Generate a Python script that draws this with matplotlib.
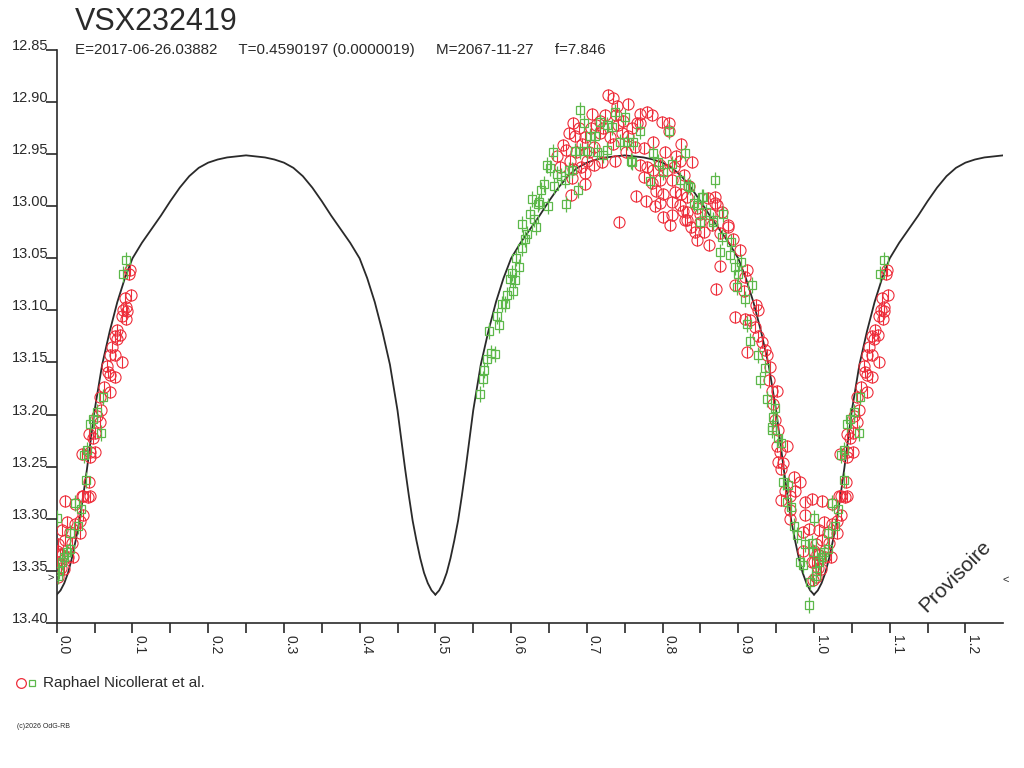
import matplotlib
matplotlib.use("Agg")
import matplotlib.pyplot as plt
from matplotlib.lines import Line2D
import numpy as np

plt.rcParams['font.family'] = ['Liberation Sans', 'DejaVu Sans']

# phased light curve, phases kept in 0..1 (plotted again at phase+1)
red_phase = [
    0.097, 0.095, 0.098, 0.090, 0.092, 0.088, 0.093, 0.086, 0.091, 0.080,
    0.084, 0.079, 0.077, 0.073, 0.077, 0.070, 0.086, 0.066, 0.068, 0.077,
    0.070, 0.062, 0.070, 0.057, 0.059, 0.053, 0.057, 0.051, 0.048, 0.044,
    0.044, 0.051, 0.042, 0.033, 0.044, 0.011, 0.024, 0.031, 0.013, 0.007,
    0.018, 0.031, 0.011, 0.020, 0.002, 0.000, 0.007, 0.022, 0.000, 0.009,
    0.002, 0.035, 0.041, 0.035, 0.024, 0.004, 0.015, 0.005, 0.034, 0.043,
    0.728, 0.734, 0.755, 0.707, 0.724, 0.739, 0.682, 0.684, 0.697, 0.717,
    0.731, 0.746, 0.669, 0.673, 0.693, 0.709, 0.735, 0.764, 0.678, 0.700,
    0.709, 0.720, 0.737, 0.682, 0.698, 0.680, 0.698, 0.679, 0.766, 0.740,
    0.779, 0.786, 0.770, 0.808, 0.799, 0.770, 0.755, 0.788, 0.808, 0.825,
    0.775, 0.803, 0.839, 0.823, 0.770, 0.779, 0.797, 0.775, 0.786, 0.797,
    0.812, 0.817, 0.801, 0.825, 0.797, 0.812, 0.823, 0.832, 0.845, 0.860,
    0.869, 0.863, 0.878, 0.810, 0.832, 0.849, 0.887, 0.712, 0.718, 0.722,
    0.705, 0.690, 0.676, 0.686, 0.703, 0.741, 0.748, 0.760, 0.752, 0.660,
    0.664, 0.692, 0.788, 0.792, 0.806, 0.815, 0.818, 0.828, 0.835, 0.765,
    0.743, 0.778, 0.790, 0.800, 0.812, 0.838, 0.855,
    0.869, 0.872, 0.832, 0.827, 0.849, 0.830, 0.865, 0.887, 0.843, 0.876,
    0.893, 0.845, 0.861, 0.902, 0.876, 0.911, 0.909, 0.896, 0.871, 0.907,
    0.924, 0.926, 0.896, 0.909, 0.916, 0.922, 0.926, 0.931, 0.911, 0.935,
    0.938, 0.942, 0.940, 0.944, 0.951, 0.951, 0.964, 0.955, 0.953, 0.959,
    0.957, 0.973, 0.981, 0.962, 0.975, 0.968, 0.957, 0.988, 0.997, 0.968,
    0.988, 0.968, 0.993, 0.986, 0.986, 0.997, 0.999, 0.949, 0.952, 0.946,
]
red_mag = [
    13.061, 13.065, 13.085, 13.088, 13.097, 13.100, 13.101, 13.105, 13.108, 13.119,
    13.124, 13.127, 13.125, 13.135, 13.143, 13.143, 13.150, 13.153, 13.159, 13.164,
    13.162, 13.174, 13.178, 13.183, 13.196, 13.201, 13.207, 13.218, 13.223, 13.236,
    13.241, 13.236, 13.265, 13.278, 13.278, 13.283, 13.286, 13.302, 13.303, 13.311,
    13.313, 13.314, 13.321, 13.323, 13.324, 13.331, 13.335, 13.337, 13.342, 13.348,
    13.356, 13.278, 13.279, 13.297, 13.305, 13.334, 13.337, 13.347, 13.238, 13.219,
    12.893, 12.896, 12.902, 12.911, 12.912, 12.912, 12.920, 12.932, 12.933, 12.930,
    12.933, 12.930, 12.941, 12.946, 12.940, 12.943, 12.940, 12.943, 12.956, 12.956,
    12.960, 12.957, 12.956, 12.964, 12.968, 12.973, 12.979, 12.989, 12.920, 12.904,
    12.909, 12.912, 12.911, 12.920, 12.919, 12.920, 12.932, 12.938, 12.928, 12.940,
    12.944, 12.948, 12.957, 12.956, 12.960, 12.962, 12.960, 12.972, 12.978, 12.975,
    12.975, 12.986, 12.988, 12.988, 12.997, 12.996, 12.999, 13.005, 13.002, 12.992,
    12.997, 13.007, 13.005, 13.018, 13.013, 13.015, 13.018, 12.922, 12.918, 12.925,
    12.925, 12.925, 12.930, 12.948, 12.948, 12.922, 12.918, 12.925, 12.948, 12.952,
    12.962, 12.962, 12.965, 12.985, 12.965, 12.962, 12.952, 12.970, 12.980, 12.990,
    13.015, 12.995, 13.000, 13.010, 13.008, 13.020, 13.025,
    12.991, 12.999, 12.991, 13.004, 13.007, 13.013, 13.018, 13.020, 13.025, 13.026,
    13.031, 13.032, 13.037, 13.042, 13.057, 13.061, 13.068, 13.076, 13.079, 13.081,
    13.095, 13.100, 13.106, 13.108, 13.109, 13.116, 13.125, 13.130, 13.140, 13.138,
    13.143, 13.154, 13.167, 13.177, 13.177, 13.230, 13.230, 13.236, 13.246, 13.247,
    13.252, 13.260, 13.265, 13.273, 13.273, 13.278, 13.282, 13.284, 13.281, 13.292,
    13.297, 13.300, 13.310, 13.313, 13.331, 13.342, 13.359, 13.205, 13.215, 13.190,
]

green_phase = [
    0.092, 0.087, 0.061, 0.053, 0.048, 0.044, 0.059, 0.040, 0.036, 0.039,
    0.024, 0.032, 0.028, 0.000, 0.018, 0.018, 0.013, 0.010, 0.007, 0.003,
    0.002,
    0.559, 0.563, 0.564, 0.568, 0.574, 0.579, 0.571, 0.584, 0.582, 0.588,
    0.592, 0.594, 0.602, 0.598, 0.605, 0.601, 0.610, 0.607, 0.614, 0.618,
    0.621, 0.615, 0.633, 0.625, 0.630, 0.637, 0.628, 0.649, 0.640, 0.644,
    0.636, 0.673, 0.657, 0.661, 0.647, 0.651, 0.655, 0.666, 0.671, 0.676,
    0.680, 0.689, 0.684, 0.691, 0.700, 0.713, 0.691, 0.696, 0.704, 0.711,
    0.717, 0.726, 0.733, 0.737, 0.750, 0.744, 0.753, 0.761, 0.758, 0.726,
    0.722,
    0.869, 0.830, 0.808, 0.854, 0.845, 0.858, 0.867, 0.880, 0.836, 0.823,
    0.812, 0.794, 0.788, 0.784, 0.770, 0.760, 0.801,
    0.834, 0.841, 0.852, 0.849, 0.867, 0.878, 0.891, 0.876, 0.889, 0.903,
    0.896, 0.900, 0.918, 0.898, 0.909, 0.911, 0.916, 0.926, 0.935, 0.929,
    0.938, 0.949, 0.946, 0.944, 0.944, 0.953, 0.957, 0.959, 0.966, 0.964,
    0.970, 0.973, 0.977, 0.988, 0.997, 0.981, 0.986, 0.995, 0.993, 0.999,
]
green_mag = [
    13.052, 13.065, 13.183, 13.198, 13.204, 13.209, 13.218, 13.234, 13.239, 13.263,
    13.285, 13.291, 13.307, 13.299, 13.314, 13.329, 13.332, 13.337, 13.342, 13.350,
    13.355,
    13.180, 13.166, 13.157, 13.147, 13.141, 13.142, 13.120, 13.114, 13.105, 13.094,
    13.094, 13.085, 13.081, 13.070, 13.071, 13.064, 13.058, 13.050, 13.040, 13.031,
    13.027, 13.017, 13.020, 13.007, 13.012, 12.996, 12.993, 13.000, 12.984, 12.979,
    12.998, 12.998, 12.980, 12.969, 12.960, 12.963, 12.948, 12.971, 12.975, 12.965,
    12.965, 12.984, 12.947, 12.947, 12.947, 12.948, 12.907, 12.920, 12.932, 12.932,
    12.919, 12.922, 12.924, 12.909, 12.914, 12.938, 12.938, 12.938, 12.956, 12.946,
    12.951,
    12.975, 12.949, 12.928, 12.991, 12.999, 13.005, 13.013, 13.007, 12.981, 12.975,
    12.959, 12.957, 12.949, 12.976, 12.928, 12.957, 12.967,
    12.980, 12.997, 12.991, 13.015, 13.015, 13.029, 13.034, 13.044, 13.047, 13.053,
    13.058, 13.065, 13.076, 13.077, 13.089, 13.113, 13.129, 13.143, 13.155, 13.167,
    13.185, 13.194, 13.202, 13.212, 13.215, 13.223, 13.227, 13.265, 13.268, 13.284,
    13.289, 13.307, 13.316, 13.324, 13.323, 13.342, 13.345, 13.361, 13.383, 13.332,
]

# model curve, rising branch from minimum (phase 0) to maximum (phase 0.25)
model_phase = [0.0, 0.005, 0.01, 0.015, 0.02, 0.025, 0.03, 0.035, 0.04, 0.045,
               0.05, 0.06, 0.07, 0.08, 0.09, 0.10, 0.1125, 0.125, 0.1375, 0.15,
               0.1625, 0.175, 0.1875, 0.20, 0.2125, 0.225, 0.2375, 0.25]
model_mag = [13.373, 13.369, 13.362, 13.352, 13.338, 13.321, 13.302, 13.278, 13.252, 13.224,
             13.196, 13.152, 13.120, 13.092, 13.069, 13.050, 13.035, 13.022, 13.009, 12.995,
             12.982, 12.971, 12.963, 12.958, 12.955, 12.953, 12.952, 12.951]

title = "VSX232419"
subtitle = "E=2017-06-26.03882     T=0.4590197 (0.0000019)     M=2067-11-27     f=7.846"
observer = "Raphael Nicollerat et al."
xticks = [0.0, 0.1, 0.2, 0.3, 0.4, 0.5, 0.6, 0.7, 0.8, 0.9, 1.0, 1.1, 1.2]
yticks = [12.85, 12.90, 12.95, 13.00, 13.05, 13.10, 13.15, 13.20, 13.25, 13.30, 13.35, 13.40]

RED = '#ee2d3a'
GREEN = '#5cb84a'
INK = '#2a2a2a'

fig = plt.figure(figsize=(10.24, 7.68), dpi=100)
ax = fig.add_axes([0.0554, 0.1892, 0.9244, 0.7454])

# model: mirror the half-period branch, then repeat every 0.5 in phase
mp = np.array(model_phase)
mm = np.array(model_mag)
half_p = np.concatenate([mp, 0.5 - mp[::-1][1:]])
half_m = np.concatenate([mm, mm[::-1][1:]])
for k in range(3):
    ax.plot(half_p + 0.5 * k, half_m, color=INK, lw=1.3, zorder=3)


def both_cycles(ph, mg):
    ph = np.array(ph)
    mg = np.array(mg)
    return np.concatenate([ph, ph + 1.0]), np.concatenate([mg, mg])


rx, ry = both_cycles(red_phase, red_mag)
gx, gy = both_cycles(green_phase, green_mag)

ax.plot(rx, ry, ls='none', marker='o', ms=8, mfc='none', mec=RED, mew=0.8, zorder=4)
ax.plot(rx, ry, ls='none', marker='|', ms=8, mec=RED, mew=0.8, zorder=4)
ax.plot(gx, gy, ls='none', marker='s', ms=5.5, mfc='none', mec=GREEN, mew=0.9, zorder=5)
ax.plot(gx, gy, ls='none', marker='|', ms=11, mec=GREEN, mew=0.9, zorder=5)

ax.set_xlim(0, 1.25)
ax.set_ylim(13.40, 12.85)
for s in ['top', 'right']:
    ax.spines[s].set_visible(False)
for s in ['left', 'bottom']:
    ax.spines[s].set_color(INK)
    ax.spines[s].set_linewidth(1.2)

ax.set_xticks(xticks)
ax.set_xticks(np.arange(0.05, 1.25, 0.1), minor=True)
ax.set_xticklabels([f"{v:.1f}" for v in xticks])
ax.set_yticks(yticks)
ax.set_yticklabels([f"{v:.2f}" for v in yticks])
ax.tick_params(axis='x', which='both', direction='out', length=7, width=1.2,
               color=INK, labelsize=10, labelcolor=INK, pad=2)
ax.tick_params(axis='y', direction='out', length=8, width=1.2, color=INK,
               labelsize=10.5, labelcolor=INK, pad=-2)
for lbl in ax.get_xticklabels():
    lbl.set_rotation(270)
    lbl.set_ha('left')
    lbl.set_va('top')
for lbl in ax.get_yticklabels():
    lbl.set_va('baseline')

# header
fig.text(75 / 1024, 1 - 30 / 768, title, fontsize=22, color=INK, ha='left', va='baseline')
fig.text(75 / 1024, 1 - 54 / 768, subtitle, fontsize=10.9, color=INK, ha='left', va='baseline')

# watermark and small markers
fig.text(955 / 1024, 1 - 576 / 768, "Provisoire", fontsize=15, color=INK,
         rotation=45, ha='center', va='center')
fig.text(1006 / 1024, 1 - 580 / 768, "<", fontsize=8, color=INK, ha='center', va='center')
fig.text(51 / 1024, 1 - 578 / 768, ">", fontsize=8, color=INK, ha='center', va='center')

# observer legend
fig.add_artist(Line2D([21 / 1024], [1 - 683 / 768], marker='o', ms=7, mfc='none',
                      mec=RED, mew=0.9, transform=fig.transFigure))
fig.add_artist(Line2D([32 / 1024], [1 - 683 / 768], marker='s', ms=5, mfc='none',
                      mec=GREEN, mew=0.9, transform=fig.transFigure))
fig.text(43 / 1024, 1 - 683 / 768, observer, fontsize=11, color=INK, ha='left', va='center')
fig.text(17 / 1024, 1 - 726 / 768, "(c)2026 OdG-RB", fontsize=5, color=INK, ha='left', va='center')

fig.savefig("out.png", dpi=100, facecolor='white')
